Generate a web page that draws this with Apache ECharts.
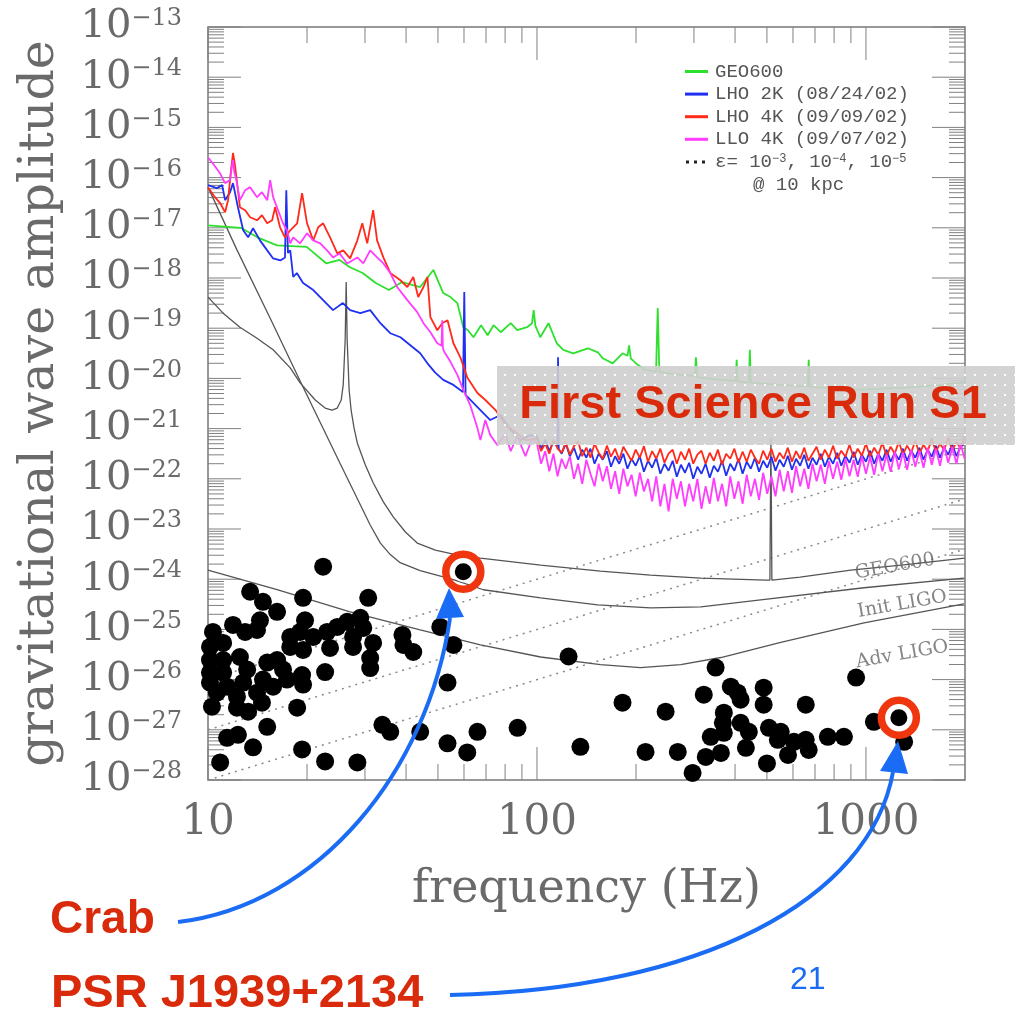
<!DOCTYPE html>
<html><head><meta charset="utf-8">
<script src="https://cdn.jsdelivr.net/npm/echarts@6/dist/echarts.min.js"></script>
<style>html,body{margin:0;padding:0;background:#fff}#c{width:1015px;height:1013px}</style>
</head><body><div id="c"></div>
<script>
// All values are stored as [log10(frequency / Hz), log10(strain amplitude h)]
const xTickLabels = ['10', '100', '1000'];      // decades 10^1, 10^2, 10^3 Hz
const xDecades = [1, 2, 3];
const xMaxHz = 2000;
const yTickExponents = [-28,-27,-26,-25,-24,-23,-22,-21,-20,-19,-18,-17,-16,-15,-14,-13];
const minorMultipliers = [2,3,4,5,6,7,8,9];

const geo600Noise = [[1.00,-16.95],[1.10,-17.00],[1.15,-17.19],[1.21,-17.35],[1.30,-17.38],[1.36,-17.71],[1.40,-17.64],[1.43,-17.78],[1.47,-17.90],[1.51,-18.10],[1.55,-18.24],[1.59,-18.08],[1.645,-18.18],[1.685,-17.84],[1.715,-18.30],[1.737,-18.38],[1.758,-18.50],[1.776,-18.98],[1.79,-19.04],[1.807,-19.18],[1.83,-18.94],[1.85,-19.14],[1.868,-18.94],[1.89,-19.08],[1.92,-18.90],[1.94,-19.04],[1.97,-18.98],[1.985,-18.90],[1.99,-18.64],[1.995,-18.95],[2.01,-19.18],[2.035,-18.90],[2.06,-19.30],[2.08,-19.43],[2.11,-19.50],[2.155,-19.40],[2.185,-19.48],[2.20,-19.60],[2.23,-19.70],[2.26,-19.50],[2.275,-19.55],[2.28,-19.34],[2.285,-19.60],[2.306,-19.73],[2.33,-19.83],[2.362,-19.86],[2.367,-18.60],[2.372,-19.87],[2.40,-19.90],[2.437,-19.93],[2.48,-19.95],[2.483,-19.58],[2.487,-19.97],[2.50,-19.99],[2.56,-20.03],[2.604,-20.05],[2.607,-19.63],[2.61,-20.06],[2.62,-20.07],[2.644,-20.08],[2.647,-19.43],[2.65,-20.09],[2.70,-20.11],[2.74,-20.13],[2.823,-20.16],[2.826,-19.63],[2.829,-20.17],[2.90,-20.20],[2.954,-20.23],[3.03,-20.21],[3.107,-20.19],[3.23,-20.13],[3.30,-20.07]];

const lho2kNoise = [[1.00,-16.15],[1.027,-16.21],[1.043,-16.15],[1.052,-16.45],[1.067,-16.29],[1.076,-16.11],[1.091,-16.59],[1.107,-17.05],[1.122,-17.19],[1.137,-17.01],[1.158,-17.25],[1.18,-17.45],[1.198,-17.61],[1.22,-17.65],[1.234,-17.59],[1.238,-16.25],[1.243,-17.50],[1.25,-17.45],[1.259,-17.98],[1.27,-17.90],[1.289,-18.10],[1.32,-18.24],[1.35,-18.44],[1.38,-18.64],[1.41,-18.50],[1.432,-18.64],[1.463,-18.70],[1.493,-18.64],[1.524,-18.90],[1.554,-19.10],[1.585,-19.18],[1.615,-19.34],[1.645,-19.50],[1.667,-19.70],[1.69,-19.88],[1.715,-20.03],[1.746,-20.13],[1.775,-20.27],[1.779,-18.28],[1.783,-20.33],[1.819,-20.57],[1.858,-20.83],[1.889,-20.73],[1.92,-21.03],[1.95,-21.23],[1.98,-21.13],
[2.0000,-21.15],[2.0125,-21.40],[2.0250,-21.22],[2.0375,-21.45],[2.0500,-21.25],[2.0625,-21.35],[2.064,-19.58],[2.066,-21.40],[2.0750,-21.50],[2.0875,-21.30],[2.1000,-21.55],[2.1125,-21.38],[2.1250,-21.62],[2.1375,-21.42],[2.1500,-21.58],[2.1625,-21.40],[2.1750,-21.70],[2.1875,-21.50],[2.2000,-21.62],[2.2125,-21.45],[2.2250,-21.76],[2.2375,-21.55],[2.2500,-21.70],[2.2625,-21.50],[2.2750,-21.80],[2.2875,-21.60],[2.3000,-21.74],[2.3125,-21.55],[2.3250,-21.86],[2.3375,-21.64],[2.3500,-21.78],[2.3625,-21.58],[2.3750,-21.90],[2.3875,-21.70],[2.4000,-21.84],[2.4125,-21.64],[2.4250,-21.96],[2.4375,-21.72],[2.4500,-21.88],[2.4625,-21.68],[2.4750,-22.00],[2.4875,-21.76],[2.5000,-21.90],[2.5125,-21.70],[2.5250,-21.98],[2.5375,-21.74],[2.5500,-21.86],[2.5625,-21.64],[2.5750,-21.94],[2.5875,-21.70],[2.6000,-21.84],[2.6125,-21.60],[2.6250,-21.90],[2.6375,-21.66],[2.6500,-21.80],[2.6625,-21.58],[2.6750,-21.86],[2.6875,-21.64],[2.7000,-21.78],[2.7125,-21.56],[2.7250,-21.84],[2.7375,-21.62],[2.7500,-21.76],[2.7625,-21.54],[2.7750,-21.82],[2.7875,-21.60],[2.8000,-21.74],[2.8125,-21.52],[2.8250,-21.80],[2.8375,-21.58],[2.8500,-21.72],[2.8625,-21.50],[2.8750,-21.76],[2.8875,-21.56],[2.9000,-21.70],[2.9125,-21.48],[2.9250,-21.74],[2.9375,-21.54],[2.9500,-21.68],[2.9625,-21.46],[2.9750,-21.72],[2.9875,-21.52],[3.0000,-21.66],[3.0125,-21.44],[3.0250,-21.70],[3.0375,-21.50],[3.0500,-21.64],[3.0625,-21.42],[3.0750,-21.66],[3.0875,-21.48],[3.1000,-21.62],[3.1125,-21.40],[3.1250,-21.64],[3.1375,-21.44],[3.1500,-21.58],[3.1625,-21.38],[3.1750,-21.62],[3.1875,-21.42],[3.2000,-21.56],[3.2125,-21.34],[3.2250,-21.58],[3.2375,-21.38],[3.2500,-21.52],[3.2625,-21.32],[3.2750,-21.55],[3.2875,-21.36],[3.3000,-21.30]];

const lho4kNoise = [[1.00,-16.19],[1.021,-16.39],[1.037,-16.51],[1.052,-16.69],[1.061,-16.45],[1.07,-15.85],[1.076,-15.51],[1.082,-15.75],[1.097,-16.59],[1.113,-16.65],[1.128,-16.79],[1.149,-16.85],[1.164,-16.75],[1.18,-16.91],[1.195,-16.85],[1.204,-16.59],[1.219,-16.99],[1.234,-17.19],[1.25,-17.05],[1.271,-16.91],[1.286,-16.31],[1.301,-16.91],[1.32,-17.25],[1.335,-16.99],[1.35,-16.91],[1.371,-17.19],[1.393,-17.51],[1.411,-17.45],[1.432,-17.61],[1.454,-17.25],[1.469,-16.91],[1.484,-17.31],[1.502,-16.65],[1.514,-17.25],[1.533,-17.59],[1.554,-17.90],[1.584,-18.04],[1.606,-18.18],[1.624,-17.98],[1.639,-18.38],[1.655,-18.18],[1.667,-17.98],[1.676,-18.78],[1.697,-19.04],[1.712,-18.90],[1.728,-18.84],[1.746,-19.30],[1.767,-19.58],[1.788,-19.98],[1.819,-20.29],[1.843,-20.43],[1.874,-20.63],[1.904,-20.93],[1.935,-21.07],[1.965,-21.23],
[2.0000,-21.20],[2.0125,-21.45],[2.0250,-21.30],[2.0375,-21.50],[2.0500,-21.22],[2.0625,-21.40],[2.0750,-21.48],[2.0875,-21.28],[2.1000,-21.52],[2.1125,-21.35],[2.1250,-21.25],[2.1375,-21.55],[2.1500,-21.38],[2.1625,-21.58],[2.1750,-21.30],[2.1875,-21.48],[2.2000,-21.60],[2.2125,-21.34],[2.2250,-21.56],[2.2375,-21.40],[2.2500,-21.62],[2.2625,-21.36],[2.2750,-21.50],[2.2875,-21.64],[2.3000,-21.42],[2.3125,-21.58],[2.3250,-21.35],[2.3375,-21.66],[2.3500,-21.45],[2.3625,-21.60],[2.3750,-21.40],[2.3875,-21.68],[2.4000,-21.50],[2.4125,-21.42],[2.4250,-21.70],[2.4375,-21.46],[2.4500,-21.62],[2.4625,-21.40],[2.4750,-21.70],[2.4875,-21.52],[2.5000,-21.44],[2.5125,-21.70],[2.5250,-21.48],[2.5375,-21.64],[2.5500,-21.42],[2.5625,-21.72],[2.5750,-21.50],[2.5875,-21.60],[2.6000,-21.40],[2.6125,-21.68],[2.6250,-21.46],[2.6375,-21.66],[2.6500,-21.42],[2.6625,-21.58],[2.6750,-21.70],[2.6875,-21.44],[2.7000,-21.62],[2.7125,-21.40],[2.7250,-21.66],[2.7375,-21.48],[2.7500,-21.60],[2.7625,-21.38],[2.7750,-21.66],[2.7875,-21.45],[2.8000,-21.60],[2.8125,-21.38],[2.8250,-21.64],[2.8375,-21.50],[2.8500,-21.36],[2.8625,-21.62],[2.8750,-21.42],[2.8875,-21.58],[2.9000,-21.34],[2.9125,-21.60],[2.9250,-21.44],[2.9375,-21.56],[2.9500,-21.32],[2.9625,-21.58],[2.9750,-21.40],[2.9875,-21.54],[3.0000,-21.30],[3.0125,-21.56],[3.0250,-21.38],[3.0375,-21.52],[3.0500,-21.28],[3.0625,-21.55],[3.0750,-21.36],[3.0875,-21.50],[3.1000,-21.26],[3.1125,-21.52],[3.1250,-21.34],[3.1375,-21.48],[3.1500,-21.24],[3.1625,-21.50],[3.1750,-21.32],[3.1875,-21.46],[3.2000,-21.20],[3.2125,-21.46],[3.2250,-21.30],[3.2375,-21.42],[3.2500,-21.18],[3.2625,-21.44],[3.2750,-21.26],[3.2875,-21.40],[3.3000,-21.16]];

const llo4kNoise = [[1.00,-15.60],[1.015,-15.72],[1.037,-15.92],[1.052,-16.11],[1.067,-16.05],[1.073,-15.75],[1.076,-15.65],[1.08,-15.90],[1.085,-16.01],[1.097,-16.45],[1.113,-16.25],[1.128,-16.19],[1.149,-16.39],[1.164,-16.29],[1.18,-16.45],[1.189,-16.05],[1.198,-16.39],[1.213,-16.65],[1.228,-16.91],[1.24,-17.05],[1.25,-17.31],[1.259,-17.19],[1.28,-17.31],[1.301,-17.11],[1.32,-17.25],[1.341,-17.31],[1.362,-17.45],[1.38,-17.59],[1.40,-17.51],[1.423,-17.71],[1.454,-17.59],[1.472,-17.71],[1.493,-17.45],[1.514,-17.59],[1.533,-17.71],[1.554,-17.90],[1.575,-18.18],[1.606,-18.44],[1.636,-18.68],[1.655,-18.90],[1.676,-19.08],[1.697,-19.30],[1.71,-19.35],[1.712,-18.84],[1.714,-19.40],[1.718,-19.47],[1.737,-19.67],[1.758,-19.93],[1.776,-20.23],[1.797,-20.53],[1.819,-20.99],[1.828,-21.23],[1.843,-20.83],[1.858,-21.13],[1.88,-21.33],[1.904,-21.10],[1.92,-21.45],[1.94,-21.15],[1.965,-21.55],[1.985,-21.20],
[2.0000,-21.30],[2.0125,-21.70],[2.0250,-21.45],[2.0375,-21.85],[2.0500,-21.50],[2.0625,-21.95],[2.0750,-21.60],[2.0875,-21.80],[2.1000,-21.55],[2.1125,-22.00],[2.1250,-21.70],[2.1375,-22.10],[2.1500,-21.62],[2.1625,-21.90],[2.1750,-22.15],[2.1875,-21.70],[2.2000,-22.05],[2.2125,-21.75],[2.2250,-22.20],[2.2375,-21.85],[2.2500,-22.30],[2.2625,-21.80],[2.2750,-22.15],[2.2875,-21.92],[2.3000,-22.35],[2.3125,-21.88],[2.3250,-22.25],[2.3375,-22.00],[2.3500,-22.45],[2.3625,-21.95],[2.3750,-22.55],[2.3875,-22.10],[2.4000,-22.65],[2.4125,-22.00],[2.4250,-22.40],[2.4375,-22.05],[2.4500,-22.55],[2.4625,-22.10],[2.4750,-22.45],[2.4875,-22.00],[2.5000,-22.60],[2.5125,-22.15],[2.5250,-22.50],[2.5375,-21.98],[2.5500,-22.45],[2.5625,-22.10],[2.5750,-22.55],[2.5875,-21.95],[2.6000,-22.40],[2.6125,-22.05],[2.6250,-22.50],[2.6375,-21.92],[2.6500,-22.35],[2.6625,-22.00],[2.6750,-22.42],[2.6875,-21.88],[2.7000,-22.30],[2.7125,-21.95],[2.7250,-22.35],[2.7375,-21.82],[2.7500,-22.25],[2.7625,-21.85],[2.7750,-22.28],[2.7875,-21.75],[2.8000,-22.15],[2.8125,-21.80],[2.8250,-22.20],[2.8375,-21.70],[2.8500,-22.05],[2.8625,-21.72],[2.8750,-22.10],[2.8875,-21.65],[2.9000,-22.00],[2.9125,-21.66],[2.9250,-22.02],[2.9375,-21.60],[2.9500,-21.95],[2.9625,-21.62],[2.9750,-21.96],[2.9875,-21.55],[3.0000,-21.90],[3.0125,-21.56],[3.0250,-21.92],[3.0375,-21.50],[3.0500,-21.85],[3.0625,-21.52],[3.0750,-21.86],[3.0875,-21.46],[3.1000,-21.80],[3.1125,-21.48],[3.1250,-21.82],[3.1375,-21.42],[3.1500,-21.76],[3.1625,-21.44],[3.1750,-21.78],[3.1875,-21.38],[3.2000,-21.72],[3.2125,-21.40],[3.2250,-21.74],[3.2375,-21.34],[3.2500,-21.68],[3.2625,-21.36],[3.2750,-21.70],[3.2875,-21.30],[3.3000,-21.60]];

const geo600Design = [[1.00,-18.38],[1.046,-18.70],[1.097,-18.98],[1.149,-19.20],[1.198,-19.43],[1.25,-19.79],[1.28,-20.09],[1.326,-20.43],[1.356,-20.59],[1.377,-20.63],[1.393,-20.59],[1.405,-20.43],[1.411,-20.13],[1.417,-19.23],[1.42,-18.08],[1.423,-19.23],[1.429,-20.23],[1.435,-20.63],[1.444,-20.99],[1.454,-21.29],[1.478,-21.72],[1.502,-22.08],[1.533,-22.46],[1.563,-22.76],[1.60,-23.06],[1.636,-23.28],[1.691,-23.42],[1.746,-23.50],[1.828,-23.58],[2.011,-23.72],[2.193,-23.84],[2.345,-23.92],[2.498,-23.98],[2.696,-24.02],[2.708,-24.02],[2.711,-21.19],[2.714,-24.02],[2.80,-23.96],[2.954,-23.82],[3.107,-23.72],[3.30,-23.58]];
const initLigoDesign = [[1.00,-16.19],[1.088,-17.44],[1.189,-18.80],[1.28,-20.05],[1.402,-21.70],[1.493,-22.92],[1.524,-23.28],[1.554,-23.51],[1.584,-23.67],[1.645,-23.83],[1.746,-24.01],[1.837,-24.21],[2.011,-24.37],[2.184,-24.51],[2.345,-24.57],[2.498,-24.55],[2.68,-24.41],[2.994,-24.17],[3.298,-23.98]];
const advLigoDesign = [[1.00,-23.82],[1.21,-24.21],[1.432,-24.65],[1.645,-25.01],[1.828,-25.31],[2.011,-25.55],[2.193,-25.70],[2.315,-25.76],[2.437,-25.70],[2.559,-25.56],[2.741,-25.26],[2.994,-24.87],[3.298,-24.49]];

// ellipticity lines, epsilon = 1e-3, 1e-4, 1e-5 at 10 kpc
const eps1e3 = [[1.0,-26.0],[3.301,-21.4]];
const eps1e4 = [[1.0,-27.0],[3.301,-22.4]];
const eps1e5 = [[1.0,-28.0],[3.301,-23.4]];

const pulsars = [[1.350,-23.75],[1.128,-24.25],[1.167,-24.45],[1.289,-24.37],[1.487,-24.37],[1.210,-24.65],[1.158,-24.82],[1.295,-24.82],[1.015,-25.05],[1.076,-24.91],[1.113,-25.05],[1.149,-25.01],[1.250,-25.15],[1.280,-25.05],[1.320,-25.15],[1.362,-25.05],[1.393,-24.95],[1.423,-24.85],[1.463,-24.77],[1.472,-24.97],[1.591,-25.11],[1.441,-25.15],[1.502,-25.27],[1.594,-25.31],[1.624,-25.45],[1.371,-25.37],[1.289,-25.41],[1.250,-25.35],[1.441,-25.35],[1.706,-24.95],[1.746,-25.31],[1.006,-25.35],[1.046,-25.27],[1.006,-25.61],[1.046,-25.61],[1.097,-25.55],[1.006,-25.86],[1.046,-25.86],[1.119,-25.80],[1.180,-25.66],[1.210,-25.61],[1.228,-25.80],[1.493,-25.57],[1.493,-25.77],[1.286,-25.91],[1.356,-25.85],[1.006,-26.06],[1.058,-26.14],[1.107,-26.06],[1.167,-26.00],[1.198,-26.14],[1.240,-26.00],[1.289,-26.10],[1.027,-26.26],[1.088,-26.34],[1.149,-26.26],[1.728,-26.06],[1.012,-26.54],[1.088,-26.56],[1.122,-26.64],[1.164,-26.46],[1.271,-26.56],[1.180,-26.94],[1.530,-26.90],[1.554,-27.04],[1.645,-27.04],[1.819,-27.04],[1.941,-26.96],[1.058,-27.16],[1.091,-27.10],[1.728,-27.27],[1.788,-27.45],[1.137,-27.35],[1.286,-27.39],[1.037,-27.65],[1.356,-27.63],[1.454,-27.65],
[2.096,-25.54],[2.543,-25.76],[2.970,-25.96],[2.260,-26.46],[2.391,-26.64],[2.507,-26.30],[2.589,-26.14],[2.610,-26.26],[2.689,-26.16],[2.619,-26.40],[2.689,-26.50],[2.817,-26.50],[2.568,-26.66],[2.565,-26.86],[2.619,-26.86],[2.644,-27.04],[2.705,-26.96],[2.741,-27.04],[2.528,-27.14],[2.568,-27.06],[2.732,-27.20],[2.781,-27.24],[2.817,-27.20],[2.884,-27.14],[2.933,-27.14],[3.024,-26.84],[3.116,-27.24],[2.132,-27.34],[2.330,-27.44],[2.428,-27.44],[2.513,-27.54],[2.559,-27.46],[2.635,-27.36],[2.763,-27.50],[2.826,-27.40],[2.473,-27.86],[2.699,-27.67]];
const highlighted = [[1.776,-23.85,'Crab'],[3.100,-26.76,'PSR J1939+2134']];
const curveLabels = [[3.088,-23.75,'GEO600'],[3.11,-24.50,'Init LIGO'],[3.11,-25.50,'Adv LIGO']];

const xMin = 1, xMax = Math.log10(xMaxHz), yMin = yTickExponents[0], yMax = yTickExponents[yTickExponents.length-1];

const tickData = [];
yTickExponents.forEach(e => {
  tickData.push([xMin, e, 0, 33]);
  if (e < yMax) minorMultipliers.forEach(m => tickData.push([xMin, e + Math.log10(m), 0, 16]));
});
xDecades.forEach(e => {
  tickData.push([e, yMin, 1, 33]);
  minorMultipliers.forEach(m => { const v = e + Math.log10(m); if (v < xMax - 1e-6) tickData.push([v, yMin, 1, 16]); });
});

const chart = echarts.init(document.getElementById('c'), null, {renderer: 'canvas'});
const serif = 'DejaVu Serif';
const mono = 'Liberation Mono';
const greyText = '#6a6a6a';

const pc = document.createElement('canvas'); pc.width = 10; pc.height = 10;
const g = pc.getContext('2d');
g.fillStyle = 'rgba(206,206,206,0.9)'; g.fillRect(0,0,10,10);
g.fillStyle = '#ffffff'; g.fillRect(4,4,2,2);

function noise(name, data, color) {
  return {type:'line', name, data, symbol:'none', showSymbol:false, z:4,
    itemStyle:{color, opacity:1}, lineStyle:{color, width:1.8, opacity:1}};
}
function design(data) {
  return {type:'line', data, symbol:'none', silent:true, z:3, lineStyle:{color:'#555', width:1.3}};
}
function epsLine(data) {
  return {type:'line', data, symbol:'none', silent:true, z:3, lineStyle:{color:'#8a8a8a', width:1.5, type:[2,5]}};
}

chart.setOption({
  animation: false,
  backgroundColor: '#fff',
  grid: {left: 208, right: 50, top: 27, bottom: 233, show: true, borderColor: '#777', borderWidth: 1.5, outerBoundsMode: 'none'},
  xAxis: {type: 'value', min: xMin, max: xMax, interval: 1,
    axisLine: {show: false}, axisTick: {show: false}, splitLine: {show: false},
    axisLabel: {margin: 22, fontFamily: serif, fontSize: 42, lineHeight: 42, color: greyText,
      formatter: v => { const r = Math.round(v); return Math.abs(v - r) < 1e-6 && xDecades.indexOf(r) >= 0 ? xTickLabels[xDecades.indexOf(r)] : ''; }},
    name: 'frequency (Hz)', nameLocation: 'middle', nameGap: 87,
    nameTextStyle: {fontFamily: serif, fontSize: 46, lineHeight: 46, color: greyText}},
  yAxis: {type: 'value', min: yMin, max: yMax, interval: 1,
    axisLine: {show: false}, axisTick: {show: false}, splitLine: {show: false},
    axisLabel: {margin: 26,
      formatter: v => { const r = Math.round(v); return Math.abs(v - r) < 1e-6 ? '{b|10}{s|\u2212' + (-r) + '}' : ''; },
      rich: {b: {fontFamily: serif, fontSize: 40, lineHeight: 40, color: greyText},
             s: {fontFamily: serif, fontSize: 24, lineHeight: 24, verticalAlign: 'top', color: greyText}}},
    name: 'gravitational wave amplitude', nameLocation: 'middle', nameGap: 143,
    nameTextStyle: {fontFamily: serif, fontSize: 49, lineHeight: 49, color: greyText}},
  legend: {orient: 'vertical', left: 685, top: 62, padding: 0, itemWidth: 23, itemHeight: 3, itemGap: 3.6,
    icon: 'rect', selectedMode: false,
    textStyle: {fontFamily: mono, fontSize: 19, lineHeight: 19, color: '#555', padding: [0,0,0,2]},
    data: ['GEO600', 'LHO 2K (08/24/02)', 'LHO 4K (09/09/02)', 'LLO 4K (09/07/02)']},
  series: [
    {type: 'custom', silent: true, z: 1, clip: false, data: tickData,
     renderItem: function (params, api) {
       const cs = params.coordSys;
       const kind = api.value(2), len = api.value(3);
       const st = {stroke: '#808080', lineWidth: 1};
       if (kind === 0) {
         const y = api.coord([xMin, api.value(1)])[1];
         return {type: 'group', children: [
           {type: 'line', shape: {x1: cs.x, y1: y, x2: cs.x + len, y2: y}, style: st},
           {type: 'line', shape: {x1: cs.x + cs.width, y1: y, x2: cs.x + cs.width - len, y2: y}, style: st}]};
       }
       const x = api.coord([api.value(0), yMin])[0];
       return {type: 'group', children: [
         {type: 'line', shape: {x1: x, y1: cs.y + cs.height, x2: x, y2: cs.y + cs.height - len}, style: st},
         {type: 'line', shape: {x1: x, y1: cs.y, x2: x, y2: cs.y + len}, style: st}]};
     }},
    epsLine(eps1e3), epsLine(eps1e4), epsLine(eps1e5),
    design(geo600Design), design(initLigoDesign), design(advLigoDesign),
    noise('GEO600', geo600Noise, '#2ee02e'),
    noise('LHO 2K (08/24/02)', lho2kNoise, '#2030f0'),
    noise('LHO 4K (09/09/02)', lho4kNoise, '#ff2a1a'),
    noise('LLO 4K (09/07/02)', llo4kNoise, '#ff3cff'),
    {type: 'scatter', data: pulsars, symbol: 'circle', symbolSize: 18, silent: true, z: 6,
     itemStyle: {color: '#000', opacity: 1}},
    {type: 'scatter', data: highlighted, symbol: 'circle', symbolSize: 19, silent: true, z: 7,
     itemStyle: {color: '#000', borderColor: '#fff', borderWidth: 2, opacity: 1}},
    {type: 'scatter', data: highlighted, symbol: 'circle', symbolSize: 35, silent: true, z: 7,
     itemStyle: {color: 'rgba(0,0,0,0)', borderColor: '#f0360e', borderWidth: 7.5, opacity: 1}},
    {type: 'scatter', data: curveLabels, symbolSize: 0, silent: true, z: 5,
     label: {show: true, position: 'inside', rotate: 10, formatter: p => p.value[2],
       fontFamily: serif, fontSize: 19, color: '#666'}}
  ],
  graphic: [
    {type: 'line', z: 100, shape: {x1: 686, y1: 162, x2: 707, y2: 162}, style: {stroke: '#222', lineWidth: 3, lineDash: [3, 5]}},
    {type: 'text', z: 100, x: 715, y: 162, style: {text: '{t|\u03b5= 10}{s|\u22123}{t|, 10}{s|\u22124}{t|, 10}{s|\u22125}',
      verticalAlign: 'middle', rich: {t: {fontFamily: mono, fontSize: 19, lineHeight: 19, fill: '#555'},
      s: {fontFamily: mono, fontSize: 12, lineHeight: 12, verticalAlign: 'top', fill: '#555'}}}},
    {type: 'text', z: 100, x: 753, y: 185, style: {text: '@ 10 kpc', fontFamily: mono, fontSize: 19, fill: '#555', verticalAlign: 'middle'}},
    {type: 'rect', z: 100, shape: {x: 497, y: 366, width: 520, height: 79}, style: {fill: {image: pc, repeat: 'repeat'}}},
    {type: 'text', z: 101, x: 753, y: 405, style: {text: 'First Science Run S1', fontFamily: 'Liberation Sans', fontWeight: 'bold', fontSize: 47, fill: '#d92b0b', align: 'center', verticalAlign: 'middle'}},
    {type: 'bezierCurve', z: 100, shape: {x1: 178, y1: 922, cpx1: 320, cpy1: 905, cpx2: 428, cpy2: 770, x2: 450, y2: 618}, style: {stroke: '#1a6cf5', lineWidth: 4, fill: null}},
    {type: 'polygon', z: 100, shape: {points: [[449, 588], [436, 619], [464, 617]]}, style: {fill: '#1a6cf5'}},
    {type: 'bezierCurve', z: 100, shape: {x1: 450, y1: 995, cpx1: 700, cpy1: 990, cpx2: 870, cpy2: 900, x2: 893, y2: 772}, style: {stroke: '#1a6cf5', lineWidth: 4, fill: null}},
    {type: 'polygon', z: 100, shape: {points: [[898, 741], [880, 771], [908, 774]]}, style: {fill: '#1a6cf5'}},
    {type: 'text', z: 100, x: 50, y: 920, style: {text: 'Crab', fontFamily: 'Liberation Sans', fontWeight: 'bold', fontSize: 46, fill: '#d92b0b', verticalAlign: 'middle'}},
    {type: 'text', z: 100, x: 51, y: 994, style: {text: 'PSR J1939+2134', fontFamily: 'Liberation Sans', fontWeight: 'bold', fontSize: 47, fill: '#d92b0b', verticalAlign: 'middle'}},
    {type: 'text', z: 100, x: 790, y: 980, style: {text: '21', fontFamily: 'Liberation Sans', fontSize: 32, fill: '#1a6cf5', verticalAlign: 'middle'}}
  ]
});
</script></body></html>
